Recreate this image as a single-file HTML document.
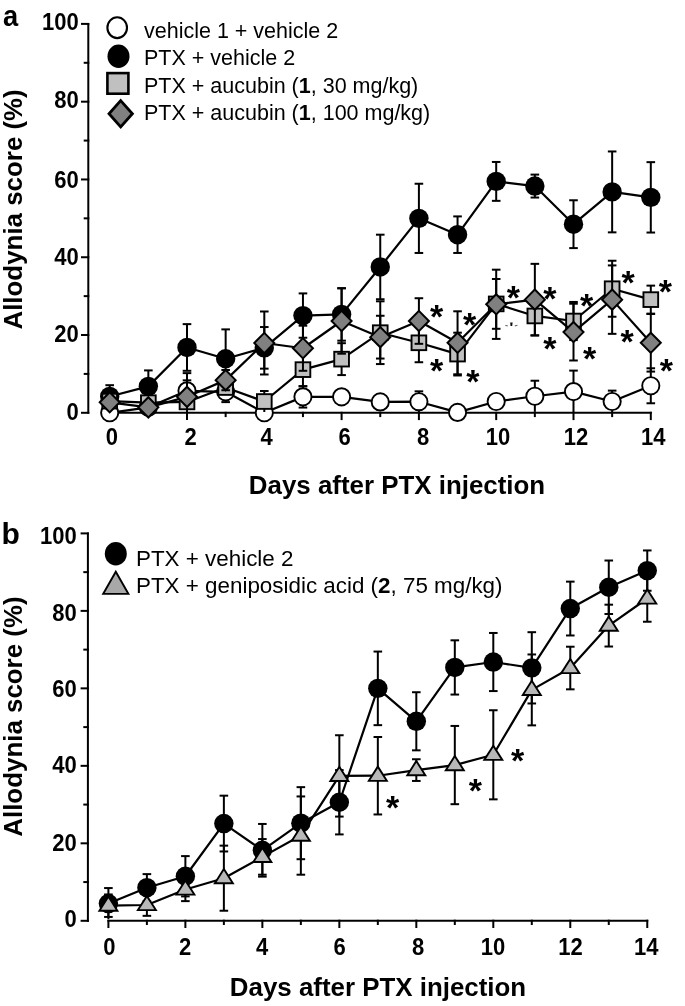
<!DOCTYPE html>
<html><head><meta charset="utf-8"><style>html,body{margin:0;padding:0;background:#fff;width:685px;height:1006px;overflow:hidden}</style></head>
<body>
<svg width="685" height="1006" viewBox="0 0 685 1006" font-family="'Liberation Sans', sans-serif" style="position:absolute;left:0;top:0;will-change:transform">
<rect width="685" height="1006" fill="#fff"/>
<text transform="translate(3.0,26.3) scale(0.91,1)" font-weight="bold" font-size="30">a</text>
<text x="1.5" y="544.2" font-weight="bold" font-size="30">b</text>
<line x1="88.3" y1="22.900000000000034" x2="88.3" y2="413.8" stroke="#000" stroke-width="2.0"/>
<line x1="81.0" y1="412.8" x2="89.3" y2="412.8" stroke="#000" stroke-width="2.0"/>
<text transform="translate(78.8,419.60) scale(0.95,1)" text-anchor="end" font-weight="bold" font-size="23.2">0</text>
<line x1="83.7" y1="373.91" x2="89.3" y2="373.91" stroke="#000" stroke-width="2.0"/>
<line x1="81.0" y1="335.02" x2="89.3" y2="335.02" stroke="#000" stroke-width="2.0"/>
<text transform="translate(78.8,342.47) scale(0.95,1)" text-anchor="end" font-weight="bold" font-size="23.2">20</text>
<line x1="83.7" y1="296.13" x2="89.3" y2="296.13" stroke="#000" stroke-width="2.0"/>
<line x1="81.0" y1="257.24" x2="89.3" y2="257.24" stroke="#000" stroke-width="2.0"/>
<text transform="translate(78.8,265.49) scale(0.95,1)" text-anchor="end" font-weight="bold" font-size="23.2">40</text>
<line x1="83.7" y1="218.35000000000002" x2="89.3" y2="218.35000000000002" stroke="#000" stroke-width="2.0"/>
<line x1="81.0" y1="179.46000000000004" x2="89.3" y2="179.46000000000004" stroke="#000" stroke-width="2.0"/>
<text transform="translate(78.8,187.66) scale(0.95,1)" text-anchor="end" font-weight="bold" font-size="23.2">60</text>
<line x1="83.7" y1="140.57000000000005" x2="89.3" y2="140.57000000000005" stroke="#000" stroke-width="2.0"/>
<line x1="81.0" y1="101.68" x2="89.3" y2="101.68" stroke="#000" stroke-width="2.0"/>
<text transform="translate(78.8,108.48) scale(0.95,1)" text-anchor="end" font-weight="bold" font-size="23.2">80</text>
<line x1="83.7" y1="62.79000000000002" x2="89.3" y2="62.79000000000002" stroke="#000" stroke-width="2.0"/>
<line x1="81.0" y1="23.900000000000034" x2="89.3" y2="23.900000000000034" stroke="#000" stroke-width="2.0"/>
<text transform="translate(78.8,30.05) scale(0.95,1)" text-anchor="end" font-weight="bold" font-size="23.2">100</text>
<line x1="108.7" y1="412.8" x2="651.8000000000001" y2="412.8" stroke="#000" stroke-width="2.0"/>
<line x1="109.7" y1="411.8" x2="109.7" y2="420.1" stroke="#000" stroke-width="2.0"/>
<text transform="translate(111.9,445.2) scale(0.95,1)" text-anchor="middle" font-weight="bold" font-size="23.2">0</text>
<line x1="148.35" y1="411.8" x2="148.35" y2="417.1" stroke="#000" stroke-width="2.0"/>
<line x1="187.0" y1="411.8" x2="187.0" y2="420.1" stroke="#000" stroke-width="2.0"/>
<text transform="translate(190.7,445.2) scale(0.95,1)" text-anchor="middle" font-weight="bold" font-size="23.2">2</text>
<line x1="225.64999999999998" y1="411.8" x2="225.64999999999998" y2="417.1" stroke="#000" stroke-width="2.0"/>
<line x1="264.3" y1="411.8" x2="264.3" y2="420.1" stroke="#000" stroke-width="2.0"/>
<text transform="translate(266.7,445.2) scale(0.95,1)" text-anchor="middle" font-weight="bold" font-size="23.2">4</text>
<line x1="302.95" y1="411.8" x2="302.95" y2="417.1" stroke="#000" stroke-width="2.0"/>
<line x1="341.59999999999997" y1="411.8" x2="341.59999999999997" y2="420.1" stroke="#000" stroke-width="2.0"/>
<text transform="translate(344.6,445.2) scale(0.95,1)" text-anchor="middle" font-weight="bold" font-size="23.2">6</text>
<line x1="380.25" y1="411.8" x2="380.25" y2="417.1" stroke="#000" stroke-width="2.0"/>
<line x1="418.9" y1="411.8" x2="418.9" y2="420.1" stroke="#000" stroke-width="2.0"/>
<text transform="translate(423.2,445.2) scale(0.95,1)" text-anchor="middle" font-weight="bold" font-size="23.2">8</text>
<line x1="457.54999999999995" y1="411.8" x2="457.54999999999995" y2="417.1" stroke="#000" stroke-width="2.0"/>
<line x1="496.2" y1="411.8" x2="496.2" y2="420.1" stroke="#000" stroke-width="2.0"/>
<text transform="translate(498.1,445.2) scale(0.95,1)" text-anchor="middle" font-weight="bold" font-size="23.2">10</text>
<line x1="534.85" y1="411.8" x2="534.85" y2="417.1" stroke="#000" stroke-width="2.0"/>
<line x1="573.5" y1="411.8" x2="573.5" y2="420.1" stroke="#000" stroke-width="2.0"/>
<text transform="translate(575.9,445.2) scale(0.95,1)" text-anchor="middle" font-weight="bold" font-size="23.2">12</text>
<line x1="612.15" y1="411.8" x2="612.15" y2="417.1" stroke="#000" stroke-width="2.0"/>
<line x1="650.8000000000001" y1="411.8" x2="650.8000000000001" y2="420.1" stroke="#000" stroke-width="2.0"/>
<text transform="translate(653.3,445.2) scale(0.95,1)" text-anchor="middle" font-weight="bold" font-size="23.2">14</text>
<text x="397.0" y="493.5" text-anchor="middle" font-weight="bold" font-size="25.9">Days after PTX injection</text>
<text transform="translate(22.3,209.4) rotate(-90)" text-anchor="middle" font-weight="bold" font-size="25.9">Allodynia score (%)</text>
<line x1="187.00" y1="380.33" x2="187.00" y2="401.33" stroke="#000" stroke-width="2.0"/>
<line x1="182.70" y1="380.33" x2="191.30" y2="380.33" stroke="#000" stroke-width="2.0"/>
<line x1="182.70" y1="401.33" x2="191.30" y2="401.33" stroke="#000" stroke-width="2.0"/>
<line x1="225.65" y1="381.49" x2="225.65" y2="402.11" stroke="#000" stroke-width="2.0"/>
<line x1="221.35" y1="381.49" x2="229.95" y2="381.49" stroke="#000" stroke-width="2.0"/>
<line x1="221.35" y1="402.11" x2="229.95" y2="402.11" stroke="#000" stroke-width="2.0"/>
<line x1="302.95" y1="386.16" x2="302.95" y2="407.55" stroke="#000" stroke-width="2.0"/>
<line x1="298.65" y1="386.16" x2="307.25" y2="386.16" stroke="#000" stroke-width="2.0"/>
<line x1="298.65" y1="407.55" x2="307.25" y2="407.55" stroke="#000" stroke-width="2.0"/>
<line x1="341.60" y1="392.97" x2="341.60" y2="400.74" stroke="#000" stroke-width="2.0"/>
<line x1="337.30" y1="392.97" x2="345.90" y2="392.97" stroke="#000" stroke-width="2.0"/>
<line x1="337.30" y1="400.74" x2="345.90" y2="400.74" stroke="#000" stroke-width="2.0"/>
<line x1="380.25" y1="398.02" x2="380.25" y2="405.80" stroke="#000" stroke-width="2.0"/>
<line x1="375.95" y1="398.02" x2="384.55" y2="398.02" stroke="#000" stroke-width="2.0"/>
<line x1="375.95" y1="405.80" x2="384.55" y2="405.80" stroke="#000" stroke-width="2.0"/>
<line x1="418.90" y1="391.33" x2="418.90" y2="412.10" stroke="#000" stroke-width="2.0"/>
<line x1="414.60" y1="391.33" x2="423.20" y2="391.33" stroke="#000" stroke-width="2.0"/>
<line x1="496.20" y1="397.63" x2="496.20" y2="405.41" stroke="#000" stroke-width="2.0"/>
<line x1="491.90" y1="397.63" x2="500.50" y2="397.63" stroke="#000" stroke-width="2.0"/>
<line x1="491.90" y1="405.41" x2="500.50" y2="405.41" stroke="#000" stroke-width="2.0"/>
<line x1="534.85" y1="380.72" x2="534.85" y2="411.83" stroke="#000" stroke-width="2.0"/>
<line x1="530.55" y1="380.72" x2="539.15" y2="380.72" stroke="#000" stroke-width="2.0"/>
<line x1="573.50" y1="370.60" x2="573.50" y2="412.61" stroke="#000" stroke-width="2.0"/>
<line x1="569.20" y1="370.60" x2="577.80" y2="370.60" stroke="#000" stroke-width="2.0"/>
<line x1="612.15" y1="390.63" x2="612.15" y2="412.41" stroke="#000" stroke-width="2.0"/>
<line x1="607.85" y1="390.63" x2="616.45" y2="390.63" stroke="#000" stroke-width="2.0"/>
<line x1="650.80" y1="368.27" x2="650.80" y2="403.27" stroke="#000" stroke-width="2.0"/>
<line x1="646.50" y1="368.27" x2="655.10" y2="368.27" stroke="#000" stroke-width="2.0"/>
<line x1="646.50" y1="403.27" x2="655.10" y2="403.27" stroke="#000" stroke-width="2.0"/>
<path d="M109.70 412.80 L148.35 407.36 L187.00 390.83 L225.65 391.80 L264.30 412.80 L302.95 396.86 L341.60 396.86 L380.25 401.91 L418.90 401.72 L457.55 412.41 L496.20 401.52 L534.85 396.27 L573.50 391.60 L612.15 401.52 L650.80 385.77" fill="none" stroke="#000" stroke-width="2.2" stroke-linejoin="round"/>
<ellipse cx="109.70" cy="412.80" rx="8.6" ry="8.6" fill="#fff" stroke="#000" stroke-width="1.9"/>
<ellipse cx="148.35" cy="407.36" rx="8.6" ry="8.6" fill="#fff" stroke="#000" stroke-width="1.9"/>
<ellipse cx="187.00" cy="390.83" rx="8.6" ry="8.6" fill="#fff" stroke="#000" stroke-width="1.9"/>
<ellipse cx="225.65" cy="391.80" rx="8.6" ry="8.6" fill="#fff" stroke="#000" stroke-width="1.9"/>
<ellipse cx="264.30" cy="412.80" rx="8.6" ry="8.6" fill="#fff" stroke="#000" stroke-width="1.9"/>
<ellipse cx="302.95" cy="396.86" rx="8.6" ry="8.6" fill="#fff" stroke="#000" stroke-width="1.9"/>
<ellipse cx="341.60" cy="396.86" rx="8.6" ry="8.6" fill="#fff" stroke="#000" stroke-width="1.9"/>
<ellipse cx="380.25" cy="401.91" rx="8.6" ry="8.6" fill="#fff" stroke="#000" stroke-width="1.9"/>
<ellipse cx="418.90" cy="401.72" rx="8.6" ry="8.6" fill="#fff" stroke="#000" stroke-width="1.9"/>
<ellipse cx="457.55" cy="412.41" rx="8.6" ry="8.6" fill="#fff" stroke="#000" stroke-width="1.9"/>
<ellipse cx="496.20" cy="401.52" rx="8.6" ry="8.6" fill="#fff" stroke="#000" stroke-width="1.9"/>
<ellipse cx="534.85" cy="396.27" rx="8.6" ry="8.6" fill="#fff" stroke="#000" stroke-width="1.9"/>
<ellipse cx="573.50" cy="391.60" rx="8.6" ry="8.6" fill="#fff" stroke="#000" stroke-width="1.9"/>
<ellipse cx="612.15" cy="401.52" rx="8.6" ry="8.6" fill="#fff" stroke="#000" stroke-width="1.9"/>
<ellipse cx="650.80" cy="385.77" rx="8.6" ry="8.6" fill="#fff" stroke="#000" stroke-width="1.9"/>
<line x1="109.70" y1="385.19" x2="109.70" y2="407.74" stroke="#000" stroke-width="2.0"/>
<line x1="105.40" y1="385.19" x2="114.00" y2="385.19" stroke="#000" stroke-width="2.0"/>
<line x1="105.40" y1="407.74" x2="114.00" y2="407.74" stroke="#000" stroke-width="2.0"/>
<line x1="148.35" y1="370.41" x2="148.35" y2="402.30" stroke="#000" stroke-width="2.0"/>
<line x1="144.05" y1="370.41" x2="152.65" y2="370.41" stroke="#000" stroke-width="2.0"/>
<line x1="144.05" y1="402.30" x2="152.65" y2="402.30" stroke="#000" stroke-width="2.0"/>
<line x1="187.00" y1="324.13" x2="187.00" y2="370.80" stroke="#000" stroke-width="2.0"/>
<line x1="182.70" y1="324.13" x2="191.30" y2="324.13" stroke="#000" stroke-width="2.0"/>
<line x1="182.70" y1="370.80" x2="191.30" y2="370.80" stroke="#000" stroke-width="2.0"/>
<line x1="225.65" y1="329.38" x2="225.65" y2="388.10" stroke="#000" stroke-width="2.0"/>
<line x1="221.35" y1="329.38" x2="229.95" y2="329.38" stroke="#000" stroke-width="2.0"/>
<line x1="221.35" y1="388.10" x2="229.95" y2="388.10" stroke="#000" stroke-width="2.0"/>
<line x1="264.30" y1="327.05" x2="264.30" y2="368.66" stroke="#000" stroke-width="2.0"/>
<line x1="260.00" y1="327.05" x2="268.60" y2="327.05" stroke="#000" stroke-width="2.0"/>
<line x1="260.00" y1="368.66" x2="268.60" y2="368.66" stroke="#000" stroke-width="2.0"/>
<line x1="302.95" y1="293.41" x2="302.95" y2="337.74" stroke="#000" stroke-width="2.0"/>
<line x1="298.65" y1="293.41" x2="307.25" y2="293.41" stroke="#000" stroke-width="2.0"/>
<line x1="298.65" y1="337.74" x2="307.25" y2="337.74" stroke="#000" stroke-width="2.0"/>
<line x1="341.60" y1="288.16" x2="341.60" y2="340.66" stroke="#000" stroke-width="2.0"/>
<line x1="337.30" y1="288.16" x2="345.90" y2="288.16" stroke="#000" stroke-width="2.0"/>
<line x1="337.30" y1="340.66" x2="345.90" y2="340.66" stroke="#000" stroke-width="2.0"/>
<line x1="380.25" y1="234.68" x2="380.25" y2="299.24" stroke="#000" stroke-width="2.0"/>
<line x1="375.95" y1="234.68" x2="384.55" y2="234.68" stroke="#000" stroke-width="2.0"/>
<line x1="375.95" y1="299.24" x2="384.55" y2="299.24" stroke="#000" stroke-width="2.0"/>
<line x1="418.90" y1="183.74" x2="418.90" y2="252.96" stroke="#000" stroke-width="2.0"/>
<line x1="414.60" y1="183.74" x2="423.20" y2="183.74" stroke="#000" stroke-width="2.0"/>
<line x1="414.60" y1="252.96" x2="423.20" y2="252.96" stroke="#000" stroke-width="2.0"/>
<line x1="457.55" y1="216.41" x2="457.55" y2="252.96" stroke="#000" stroke-width="2.0"/>
<line x1="453.25" y1="216.41" x2="461.85" y2="216.41" stroke="#000" stroke-width="2.0"/>
<line x1="453.25" y1="252.96" x2="461.85" y2="252.96" stroke="#000" stroke-width="2.0"/>
<line x1="496.20" y1="161.96" x2="496.20" y2="200.85" stroke="#000" stroke-width="2.0"/>
<line x1="491.90" y1="161.96" x2="500.50" y2="161.96" stroke="#000" stroke-width="2.0"/>
<line x1="491.90" y1="200.85" x2="500.50" y2="200.85" stroke="#000" stroke-width="2.0"/>
<line x1="534.85" y1="174.60" x2="534.85" y2="197.54" stroke="#000" stroke-width="2.0"/>
<line x1="530.55" y1="174.60" x2="539.15" y2="174.60" stroke="#000" stroke-width="2.0"/>
<line x1="530.55" y1="197.54" x2="539.15" y2="197.54" stroke="#000" stroke-width="2.0"/>
<line x1="573.50" y1="200.27" x2="573.50" y2="248.10" stroke="#000" stroke-width="2.0"/>
<line x1="569.20" y1="200.27" x2="577.80" y2="200.27" stroke="#000" stroke-width="2.0"/>
<line x1="569.20" y1="248.10" x2="577.80" y2="248.10" stroke="#000" stroke-width="2.0"/>
<line x1="612.15" y1="151.46" x2="612.15" y2="232.35" stroke="#000" stroke-width="2.0"/>
<line x1="607.85" y1="151.46" x2="616.45" y2="151.46" stroke="#000" stroke-width="2.0"/>
<line x1="607.85" y1="232.35" x2="616.45" y2="232.35" stroke="#000" stroke-width="2.0"/>
<line x1="650.80" y1="162.15" x2="650.80" y2="232.54" stroke="#000" stroke-width="2.0"/>
<line x1="646.50" y1="162.15" x2="655.10" y2="162.15" stroke="#000" stroke-width="2.0"/>
<line x1="646.50" y1="232.54" x2="655.10" y2="232.54" stroke="#000" stroke-width="2.0"/>
<path d="M109.70 396.47 L148.35 386.35 L187.00 347.46 L225.65 358.74 L264.30 347.85 L302.95 315.58 L341.60 314.41 L380.25 266.96 L418.90 218.35 L457.55 234.68 L496.20 181.40 L534.85 186.07 L573.50 224.18 L612.15 191.90 L650.80 197.35" fill="none" stroke="#000" stroke-width="2.2" stroke-linejoin="round"/>
<ellipse cx="109.70" cy="396.47" rx="9.7" ry="9.7" fill="#000"/>
<ellipse cx="148.35" cy="386.35" rx="9.7" ry="9.7" fill="#000"/>
<ellipse cx="187.00" cy="347.46" rx="9.7" ry="9.7" fill="#000"/>
<ellipse cx="225.65" cy="358.74" rx="9.7" ry="9.7" fill="#000"/>
<ellipse cx="264.30" cy="347.85" rx="9.7" ry="9.7" fill="#000"/>
<ellipse cx="302.95" cy="315.58" rx="9.7" ry="9.7" fill="#000"/>
<ellipse cx="341.60" cy="314.41" rx="9.7" ry="9.7" fill="#000"/>
<ellipse cx="380.25" cy="266.96" rx="9.7" ry="9.7" fill="#000"/>
<ellipse cx="418.90" cy="218.35" rx="9.7" ry="9.7" fill="#000"/>
<ellipse cx="457.55" cy="234.68" rx="9.7" ry="9.7" fill="#000"/>
<ellipse cx="496.20" cy="181.40" rx="9.7" ry="9.7" fill="#000"/>
<ellipse cx="534.85" cy="186.07" rx="9.7" ry="9.7" fill="#000"/>
<ellipse cx="573.50" cy="224.18" rx="9.7" ry="9.7" fill="#000"/>
<ellipse cx="612.15" cy="191.90" rx="9.7" ry="9.7" fill="#000"/>
<ellipse cx="650.80" cy="197.35" rx="9.7" ry="9.7" fill="#000"/>
<line x1="109.70" y1="397.24" x2="109.70" y2="405.02" stroke="#000" stroke-width="2.0"/>
<line x1="105.40" y1="397.24" x2="114.00" y2="397.24" stroke="#000" stroke-width="2.0"/>
<line x1="105.40" y1="405.02" x2="114.00" y2="405.02" stroke="#000" stroke-width="2.0"/>
<line x1="148.35" y1="398.80" x2="148.35" y2="406.58" stroke="#000" stroke-width="2.0"/>
<line x1="144.05" y1="398.80" x2="152.65" y2="398.80" stroke="#000" stroke-width="2.0"/>
<line x1="144.05" y1="406.58" x2="152.65" y2="406.58" stroke="#000" stroke-width="2.0"/>
<line x1="187.00" y1="398.02" x2="187.00" y2="405.80" stroke="#000" stroke-width="2.0"/>
<line x1="182.70" y1="398.02" x2="191.30" y2="398.02" stroke="#000" stroke-width="2.0"/>
<line x1="182.70" y1="405.80" x2="191.30" y2="405.80" stroke="#000" stroke-width="2.0"/>
<line x1="225.65" y1="381.69" x2="225.65" y2="393.36" stroke="#000" stroke-width="2.0"/>
<line x1="221.35" y1="381.69" x2="229.95" y2="381.69" stroke="#000" stroke-width="2.0"/>
<line x1="221.35" y1="393.36" x2="229.95" y2="393.36" stroke="#000" stroke-width="2.0"/>
<line x1="264.30" y1="391.02" x2="264.30" y2="412.02" stroke="#000" stroke-width="2.0"/>
<line x1="260.00" y1="391.02" x2="268.60" y2="391.02" stroke="#000" stroke-width="2.0"/>
<line x1="302.95" y1="352.91" x2="302.95" y2="386.35" stroke="#000" stroke-width="2.0"/>
<line x1="298.65" y1="352.91" x2="307.25" y2="352.91" stroke="#000" stroke-width="2.0"/>
<line x1="298.65" y1="386.35" x2="307.25" y2="386.35" stroke="#000" stroke-width="2.0"/>
<line x1="341.60" y1="343.19" x2="341.60" y2="375.08" stroke="#000" stroke-width="2.0"/>
<line x1="337.30" y1="343.19" x2="345.90" y2="343.19" stroke="#000" stroke-width="2.0"/>
<line x1="337.30" y1="375.08" x2="345.90" y2="375.08" stroke="#000" stroke-width="2.0"/>
<line x1="380.25" y1="301.30" x2="380.25" y2="364.07" stroke="#000" stroke-width="2.0"/>
<line x1="375.95" y1="301.30" x2="384.55" y2="301.30" stroke="#000" stroke-width="2.0"/>
<line x1="375.95" y1="364.07" x2="384.55" y2="364.07" stroke="#000" stroke-width="2.0"/>
<line x1="418.90" y1="323.35" x2="418.90" y2="362.24" stroke="#000" stroke-width="2.0"/>
<line x1="414.60" y1="323.35" x2="423.20" y2="323.35" stroke="#000" stroke-width="2.0"/>
<line x1="414.60" y1="362.24" x2="423.20" y2="362.24" stroke="#000" stroke-width="2.0"/>
<line x1="457.55" y1="332.69" x2="457.55" y2="375.47" stroke="#000" stroke-width="2.0"/>
<line x1="453.25" y1="332.69" x2="461.85" y2="332.69" stroke="#000" stroke-width="2.0"/>
<line x1="453.25" y1="375.47" x2="461.85" y2="375.47" stroke="#000" stroke-width="2.0"/>
<line x1="496.20" y1="279.02" x2="496.20" y2="328.80" stroke="#000" stroke-width="2.0"/>
<line x1="491.90" y1="279.02" x2="500.50" y2="279.02" stroke="#000" stroke-width="2.0"/>
<line x1="491.90" y1="328.80" x2="500.50" y2="328.80" stroke="#000" stroke-width="2.0"/>
<line x1="534.85" y1="296.52" x2="534.85" y2="335.41" stroke="#000" stroke-width="2.0"/>
<line x1="530.55" y1="296.52" x2="539.15" y2="296.52" stroke="#000" stroke-width="2.0"/>
<line x1="530.55" y1="335.41" x2="539.15" y2="335.41" stroke="#000" stroke-width="2.0"/>
<line x1="573.50" y1="301.96" x2="573.50" y2="340.08" stroke="#000" stroke-width="2.0"/>
<line x1="569.20" y1="301.96" x2="577.80" y2="301.96" stroke="#000" stroke-width="2.0"/>
<line x1="569.20" y1="340.08" x2="577.80" y2="340.08" stroke="#000" stroke-width="2.0"/>
<line x1="612.15" y1="260.74" x2="612.15" y2="316.74" stroke="#000" stroke-width="2.0"/>
<line x1="607.85" y1="260.74" x2="616.45" y2="260.74" stroke="#000" stroke-width="2.0"/>
<line x1="607.85" y1="316.74" x2="616.45" y2="316.74" stroke="#000" stroke-width="2.0"/>
<line x1="650.80" y1="285.63" x2="650.80" y2="313.63" stroke="#000" stroke-width="2.0"/>
<line x1="646.50" y1="285.63" x2="655.10" y2="285.63" stroke="#000" stroke-width="2.0"/>
<line x1="646.50" y1="313.63" x2="655.10" y2="313.63" stroke="#000" stroke-width="2.0"/>
<path d="M109.70 401.13 L148.35 402.69 L187.00 401.91 L225.65 387.52 L264.30 401.52 L302.95 369.63 L341.60 359.13 L380.25 332.69 L418.90 342.80 L457.55 354.08 L496.20 303.91 L534.85 315.96 L573.50 321.02 L612.15 288.74 L650.80 299.63" fill="none" stroke="#000" stroke-width="2.2" stroke-linejoin="round"/>
<rect x="102.35" y="393.78" width="14.70" height="14.70" fill="#c0c0c0" stroke="#000" stroke-width="1.9"/>
<rect x="141.00" y="395.34" width="14.70" height="14.70" fill="#c0c0c0" stroke="#000" stroke-width="1.9"/>
<rect x="179.65" y="394.56" width="14.70" height="14.70" fill="#c0c0c0" stroke="#000" stroke-width="1.9"/>
<rect x="218.30" y="380.17" width="14.70" height="14.70" fill="#c0c0c0" stroke="#000" stroke-width="1.9"/>
<rect x="256.95" y="394.17" width="14.70" height="14.70" fill="#c0c0c0" stroke="#000" stroke-width="1.9"/>
<rect x="295.60" y="362.28" width="14.70" height="14.70" fill="#c0c0c0" stroke="#000" stroke-width="1.9"/>
<rect x="334.25" y="351.78" width="14.70" height="14.70" fill="#c0c0c0" stroke="#000" stroke-width="1.9"/>
<rect x="372.90" y="325.34" width="14.70" height="14.70" fill="#c0c0c0" stroke="#000" stroke-width="1.9"/>
<rect x="411.55" y="335.45" width="14.70" height="14.70" fill="#c0c0c0" stroke="#000" stroke-width="1.9"/>
<rect x="450.20" y="346.73" width="14.70" height="14.70" fill="#c0c0c0" stroke="#000" stroke-width="1.9"/>
<rect x="488.85" y="296.56" width="14.70" height="14.70" fill="#c0c0c0" stroke="#000" stroke-width="1.9"/>
<rect x="527.50" y="308.61" width="14.70" height="14.70" fill="#c0c0c0" stroke="#000" stroke-width="1.9"/>
<rect x="566.15" y="313.67" width="14.70" height="14.70" fill="#c0c0c0" stroke="#000" stroke-width="1.9"/>
<rect x="604.80" y="281.39" width="14.70" height="14.70" fill="#c0c0c0" stroke="#000" stroke-width="1.9"/>
<rect x="643.45" y="292.28" width="14.70" height="14.70" fill="#c0c0c0" stroke="#000" stroke-width="1.9"/>
<line x1="109.70" y1="398.41" x2="109.70" y2="406.19" stroke="#000" stroke-width="2.0"/>
<line x1="105.40" y1="398.41" x2="114.00" y2="398.41" stroke="#000" stroke-width="2.0"/>
<line x1="105.40" y1="406.19" x2="114.00" y2="406.19" stroke="#000" stroke-width="2.0"/>
<line x1="148.35" y1="403.47" x2="148.35" y2="411.24" stroke="#000" stroke-width="2.0"/>
<line x1="144.05" y1="403.47" x2="152.65" y2="403.47" stroke="#000" stroke-width="2.0"/>
<line x1="187.00" y1="373.13" x2="187.00" y2="412.80" stroke="#000" stroke-width="2.0"/>
<line x1="182.70" y1="373.13" x2="191.30" y2="373.13" stroke="#000" stroke-width="2.0"/>
<line x1="225.65" y1="370.02" x2="225.65" y2="390.24" stroke="#000" stroke-width="2.0"/>
<line x1="221.35" y1="370.02" x2="229.95" y2="370.02" stroke="#000" stroke-width="2.0"/>
<line x1="221.35" y1="390.24" x2="229.95" y2="390.24" stroke="#000" stroke-width="2.0"/>
<line x1="264.30" y1="311.49" x2="264.30" y2="374.49" stroke="#000" stroke-width="2.0"/>
<line x1="260.00" y1="311.49" x2="268.60" y2="311.49" stroke="#000" stroke-width="2.0"/>
<line x1="260.00" y1="374.49" x2="268.60" y2="374.49" stroke="#000" stroke-width="2.0"/>
<line x1="302.95" y1="325.69" x2="302.95" y2="370.80" stroke="#000" stroke-width="2.0"/>
<line x1="298.65" y1="325.69" x2="307.25" y2="325.69" stroke="#000" stroke-width="2.0"/>
<line x1="298.65" y1="370.80" x2="307.25" y2="370.80" stroke="#000" stroke-width="2.0"/>
<line x1="341.60" y1="288.35" x2="341.60" y2="353.69" stroke="#000" stroke-width="2.0"/>
<line x1="337.30" y1="288.35" x2="345.90" y2="288.35" stroke="#000" stroke-width="2.0"/>
<line x1="337.30" y1="353.69" x2="345.90" y2="353.69" stroke="#000" stroke-width="2.0"/>
<line x1="380.25" y1="315.77" x2="380.25" y2="358.55" stroke="#000" stroke-width="2.0"/>
<line x1="375.95" y1="315.77" x2="384.55" y2="315.77" stroke="#000" stroke-width="2.0"/>
<line x1="375.95" y1="358.55" x2="384.55" y2="358.55" stroke="#000" stroke-width="2.0"/>
<line x1="418.90" y1="298.23" x2="418.90" y2="343.81" stroke="#000" stroke-width="2.0"/>
<line x1="414.60" y1="298.23" x2="423.20" y2="298.23" stroke="#000" stroke-width="2.0"/>
<line x1="414.60" y1="343.81" x2="423.20" y2="343.81" stroke="#000" stroke-width="2.0"/>
<line x1="457.55" y1="311.30" x2="457.55" y2="374.30" stroke="#000" stroke-width="2.0"/>
<line x1="453.25" y1="311.30" x2="461.85" y2="311.30" stroke="#000" stroke-width="2.0"/>
<line x1="453.25" y1="374.30" x2="461.85" y2="374.30" stroke="#000" stroke-width="2.0"/>
<line x1="496.20" y1="269.68" x2="496.20" y2="338.91" stroke="#000" stroke-width="2.0"/>
<line x1="491.90" y1="269.68" x2="500.50" y2="269.68" stroke="#000" stroke-width="2.0"/>
<line x1="491.90" y1="338.91" x2="500.50" y2="338.91" stroke="#000" stroke-width="2.0"/>
<line x1="534.85" y1="263.85" x2="534.85" y2="335.41" stroke="#000" stroke-width="2.0"/>
<line x1="530.55" y1="263.85" x2="539.15" y2="263.85" stroke="#000" stroke-width="2.0"/>
<line x1="530.55" y1="335.41" x2="539.15" y2="335.41" stroke="#000" stroke-width="2.0"/>
<line x1="573.50" y1="303.71" x2="573.50" y2="360.49" stroke="#000" stroke-width="2.0"/>
<line x1="569.20" y1="303.71" x2="577.80" y2="303.71" stroke="#000" stroke-width="2.0"/>
<line x1="569.20" y1="360.49" x2="577.80" y2="360.49" stroke="#000" stroke-width="2.0"/>
<line x1="612.15" y1="265.41" x2="612.15" y2="333.85" stroke="#000" stroke-width="2.0"/>
<line x1="607.85" y1="265.41" x2="616.45" y2="265.41" stroke="#000" stroke-width="2.0"/>
<line x1="607.85" y1="333.85" x2="616.45" y2="333.85" stroke="#000" stroke-width="2.0"/>
<line x1="650.80" y1="314.02" x2="650.80" y2="371.58" stroke="#000" stroke-width="2.0"/>
<line x1="646.50" y1="314.02" x2="655.10" y2="314.02" stroke="#000" stroke-width="2.0"/>
<line x1="646.50" y1="371.58" x2="655.10" y2="371.58" stroke="#000" stroke-width="2.0"/>
<path d="M109.70 402.30 L148.35 407.36 L187.00 396.86 L225.65 380.13 L264.30 342.99 L302.95 348.24 L341.60 321.02 L380.25 337.16 L418.90 321.02 L457.55 342.80 L496.20 304.30 L534.85 299.63 L573.50 332.10 L612.15 299.63 L650.80 342.80" fill="none" stroke="#000" stroke-width="2.2" stroke-linejoin="round"/>
<path d="M109.70 392.20L119.70 402.30L109.70 412.40L99.70 402.30Z" fill="#808080" stroke="#000" stroke-width="2.0" stroke-linejoin="miter" stroke-miterlimit="10"/>
<path d="M148.35 397.26L158.35 407.36L148.35 417.46L138.35 407.36Z" fill="#808080" stroke="#000" stroke-width="2.0" stroke-linejoin="miter" stroke-miterlimit="10"/>
<path d="M187.00 386.76L197.00 396.86L187.00 406.96L177.00 396.86Z" fill="#808080" stroke="#000" stroke-width="2.0" stroke-linejoin="miter" stroke-miterlimit="10"/>
<path d="M225.65 370.03L235.65 380.13L225.65 390.23L215.65 380.13Z" fill="#808080" stroke="#000" stroke-width="2.0" stroke-linejoin="miter" stroke-miterlimit="10"/>
<path d="M264.30 332.89L274.30 342.99L264.30 353.09L254.30 342.99Z" fill="#808080" stroke="#000" stroke-width="2.0" stroke-linejoin="miter" stroke-miterlimit="10"/>
<path d="M302.95 338.14L312.95 348.24L302.95 358.34L292.95 348.24Z" fill="#808080" stroke="#000" stroke-width="2.0" stroke-linejoin="miter" stroke-miterlimit="10"/>
<path d="M341.60 310.92L351.60 321.02L341.60 331.12L331.60 321.02Z" fill="#808080" stroke="#000" stroke-width="2.0" stroke-linejoin="miter" stroke-miterlimit="10"/>
<path d="M380.25 327.06L390.25 337.16L380.25 347.26L370.25 337.16Z" fill="#808080" stroke="#000" stroke-width="2.0" stroke-linejoin="miter" stroke-miterlimit="10"/>
<path d="M418.90 310.92L428.90 321.02L418.90 331.12L408.90 321.02Z" fill="#808080" stroke="#000" stroke-width="2.0" stroke-linejoin="miter" stroke-miterlimit="10"/>
<path d="M457.55 332.70L467.55 342.80L457.55 352.90L447.55 342.80Z" fill="#808080" stroke="#000" stroke-width="2.0" stroke-linejoin="miter" stroke-miterlimit="10"/>
<path d="M496.20 294.20L506.20 304.30L496.20 314.40L486.20 304.30Z" fill="#808080" stroke="#000" stroke-width="2.0" stroke-linejoin="miter" stroke-miterlimit="10"/>
<path d="M534.85 289.53L544.85 299.63L534.85 309.73L524.85 299.63Z" fill="#808080" stroke="#000" stroke-width="2.0" stroke-linejoin="miter" stroke-miterlimit="10"/>
<path d="M573.50 322.00L583.50 332.10L573.50 342.20L563.50 332.10Z" fill="#808080" stroke="#000" stroke-width="2.0" stroke-linejoin="miter" stroke-miterlimit="10"/>
<path d="M612.15 289.53L622.15 299.63L612.15 309.73L602.15 299.63Z" fill="#808080" stroke="#000" stroke-width="2.0" stroke-linejoin="miter" stroke-miterlimit="10"/>
<path d="M650.80 332.70L660.80 342.80L650.80 352.90L640.80 342.80Z" fill="#808080" stroke="#000" stroke-width="2.0" stroke-linejoin="miter" stroke-miterlimit="10"/>
<text x="436.6" y="327.6" text-anchor="middle" font-weight="bold" font-size="34">*</text>
<text x="436.6" y="381.9" text-anchor="middle" font-weight="bold" font-size="34">*</text>
<text x="469.5" y="335.8" text-anchor="middle" font-weight="bold" font-size="34">*</text>
<text x="472.9" y="393.3" text-anchor="middle" font-weight="bold" font-size="34">*</text>
<text x="513.3" y="309.3" text-anchor="middle" font-weight="bold" font-size="34">*</text>
<text x="549.9" y="309.9" text-anchor="middle" font-weight="bold" font-size="34">*</text>
<text x="549.9" y="360.2" text-anchor="middle" font-weight="bold" font-size="34">*</text>
<text x="586.5" y="316.9" text-anchor="middle" font-weight="bold" font-size="34">*</text>
<text x="589.7" y="370.1" text-anchor="middle" font-weight="bold" font-size="34">*</text>
<text x="628.1" y="293.9" text-anchor="middle" font-weight="bold" font-size="34">*</text>
<text x="627.2" y="352.6" text-anchor="middle" font-weight="bold" font-size="34">*</text>
<text x="665.3" y="303.3" text-anchor="middle" font-weight="bold" font-size="34">*</text>
<text x="666.4" y="382.1" text-anchor="middle" font-weight="bold" font-size="34">*</text>
<path d="M510.2 322.4h2.4l-0.4 3.6h-1.7z" fill="#111"/>
<path d="M505.4 325.0l2.6 0.6-0.6 0.8-2.2-0.6z" fill="#555"/>
<path d="M514.6 325.6l2.8-0.8 0.2 0.8-2.6 0.8z" fill="#555"/>
<ellipse cx="117.20" cy="27.70" rx="9.8" ry="10.4" fill="#fff" stroke="#000" stroke-width="2.1"/>
<text x="144.0" y="37.8" font-size="21.5">vehicle 1 + vehicle 2</text>
<ellipse cx="118.50" cy="56.20" rx="11" ry="11.7" fill="#000"/>
<text x="144.0" y="65.10000000000001" font-size="21.5">PTX + vehicle 2</text>
<rect x="107.40" y="73.10" width="21.00" height="20.60" fill="#c0c0c0" stroke="#000" stroke-width="2.6"/>
<text x="144.0" y="92.80000000000001" font-size="21.5">PTX + aucubin (<tspan font-weight="bold">1</tspan>, 30 mg/kg)</text>
<path d="M120.70 100.60L132.40 113.80L120.70 127.00L109.00 113.80Z" fill="#808080" stroke="#000" stroke-width="2.8" stroke-linejoin="miter" stroke-miterlimit="10"/>
<text x="144.0" y="120.10000000000001" font-size="21.5">PTX + aucubin (<tspan font-weight="bold">1</tspan>, 100 mg/kg)</text>
<line x1="87.9" y1="532.3999999999999" x2="87.9" y2="921.8" stroke="#000" stroke-width="2.0"/>
<line x1="80.60000000000001" y1="920.8" x2="88.9" y2="920.8" stroke="#000" stroke-width="2.0"/>
<text transform="translate(76.8,926.65) scale(0.95,1)" text-anchor="end" font-weight="bold" font-size="23.2">0</text>
<line x1="83.30000000000001" y1="882.06" x2="88.9" y2="882.06" stroke="#000" stroke-width="2.0"/>
<line x1="80.60000000000001" y1="843.3199999999999" x2="88.9" y2="843.3199999999999" stroke="#000" stroke-width="2.0"/>
<text transform="translate(76.8,850.57) scale(0.95,1)" text-anchor="end" font-weight="bold" font-size="23.2">20</text>
<line x1="83.30000000000001" y1="804.5799999999999" x2="88.9" y2="804.5799999999999" stroke="#000" stroke-width="2.0"/>
<line x1="80.60000000000001" y1="765.8399999999999" x2="88.9" y2="765.8399999999999" stroke="#000" stroke-width="2.0"/>
<text transform="translate(76.8,773.49) scale(0.95,1)" text-anchor="end" font-weight="bold" font-size="23.2">40</text>
<line x1="83.30000000000001" y1="727.0999999999999" x2="88.9" y2="727.0999999999999" stroke="#000" stroke-width="2.0"/>
<line x1="80.60000000000001" y1="688.3599999999999" x2="88.9" y2="688.3599999999999" stroke="#000" stroke-width="2.0"/>
<text transform="translate(76.8,696.96) scale(0.95,1)" text-anchor="end" font-weight="bold" font-size="23.2">60</text>
<line x1="83.30000000000001" y1="649.6199999999999" x2="88.9" y2="649.6199999999999" stroke="#000" stroke-width="2.0"/>
<line x1="80.60000000000001" y1="610.8799999999999" x2="88.9" y2="610.8799999999999" stroke="#000" stroke-width="2.0"/>
<text transform="translate(76.8,620.58) scale(0.95,1)" text-anchor="end" font-weight="bold" font-size="23.2">80</text>
<line x1="83.30000000000001" y1="572.1399999999999" x2="88.9" y2="572.1399999999999" stroke="#000" stroke-width="2.0"/>
<line x1="80.60000000000001" y1="533.3999999999999" x2="88.9" y2="533.3999999999999" stroke="#000" stroke-width="2.0"/>
<text transform="translate(76.8,544.20) scale(0.95,1)" text-anchor="end" font-weight="bold" font-size="23.2">100</text>
<line x1="107.4" y1="920.7" x2="648.26" y2="920.7" stroke="#000" stroke-width="2.0"/>
<line x1="108.4" y1="919.7" x2="108.4" y2="928.0" stroke="#000" stroke-width="2.0"/>
<text transform="translate(109.3,954.9) scale(0.95,1)" text-anchor="middle" font-weight="bold" font-size="23.2">0</text>
<line x1="146.89000000000001" y1="919.7" x2="146.89000000000001" y2="925.0" stroke="#000" stroke-width="2.0"/>
<line x1="185.38" y1="919.7" x2="185.38" y2="928.0" stroke="#000" stroke-width="2.0"/>
<text transform="translate(185.0,954.9) scale(0.95,1)" text-anchor="middle" font-weight="bold" font-size="23.2">2</text>
<line x1="223.87" y1="919.7" x2="223.87" y2="925.0" stroke="#000" stroke-width="2.0"/>
<line x1="262.36" y1="919.7" x2="262.36" y2="928.0" stroke="#000" stroke-width="2.0"/>
<text transform="translate(262.0,954.9) scale(0.95,1)" text-anchor="middle" font-weight="bold" font-size="23.2">4</text>
<line x1="300.85" y1="919.7" x2="300.85" y2="925.0" stroke="#000" stroke-width="2.0"/>
<line x1="339.34000000000003" y1="919.7" x2="339.34000000000003" y2="928.0" stroke="#000" stroke-width="2.0"/>
<text transform="translate(339.5,954.9) scale(0.95,1)" text-anchor="middle" font-weight="bold" font-size="23.2">6</text>
<line x1="377.83000000000004" y1="919.7" x2="377.83000000000004" y2="925.0" stroke="#000" stroke-width="2.0"/>
<line x1="416.32000000000005" y1="919.7" x2="416.32000000000005" y2="928.0" stroke="#000" stroke-width="2.0"/>
<text transform="translate(418.0,954.9) scale(0.95,1)" text-anchor="middle" font-weight="bold" font-size="23.2">8</text>
<line x1="454.81000000000006" y1="919.7" x2="454.81000000000006" y2="925.0" stroke="#000" stroke-width="2.0"/>
<line x1="493.30000000000007" y1="919.7" x2="493.30000000000007" y2="928.0" stroke="#000" stroke-width="2.0"/>
<text transform="translate(493.0,954.9) scale(0.95,1)" text-anchor="middle" font-weight="bold" font-size="23.2">10</text>
<line x1="531.7900000000001" y1="919.7" x2="531.7900000000001" y2="925.0" stroke="#000" stroke-width="2.0"/>
<line x1="570.28" y1="919.7" x2="570.28" y2="928.0" stroke="#000" stroke-width="2.0"/>
<text transform="translate(570.5,954.9) scale(0.95,1)" text-anchor="middle" font-weight="bold" font-size="23.2">12</text>
<line x1="608.77" y1="919.7" x2="608.77" y2="925.0" stroke="#000" stroke-width="2.0"/>
<line x1="647.26" y1="919.7" x2="647.26" y2="928.0" stroke="#000" stroke-width="2.0"/>
<text transform="translate(646.2,954.9) scale(0.95,1)" text-anchor="middle" font-weight="bold" font-size="23.2">14</text>
<text x="378.0" y="995.8" text-anchor="middle" font-weight="bold" font-size="25.9">Days after PTX injection</text>
<text transform="translate(22.3,716.6) rotate(-90)" text-anchor="middle" font-weight="bold" font-size="25.9">Allodynia score (%)</text>
<line x1="108.40" y1="888.06" x2="108.40" y2="919.06" stroke="#000" stroke-width="2.0"/>
<line x1="104.10" y1="888.06" x2="112.70" y2="888.06" stroke="#000" stroke-width="2.0"/>
<line x1="146.89" y1="874.12" x2="146.89" y2="901.24" stroke="#000" stroke-width="2.0"/>
<line x1="142.59" y1="874.12" x2="151.19" y2="874.12" stroke="#000" stroke-width="2.0"/>
<line x1="142.59" y1="901.24" x2="151.19" y2="901.24" stroke="#000" stroke-width="2.0"/>
<line x1="185.38" y1="856.10" x2="185.38" y2="896.39" stroke="#000" stroke-width="2.0"/>
<line x1="181.08" y1="856.10" x2="189.68" y2="856.10" stroke="#000" stroke-width="2.0"/>
<line x1="181.08" y1="896.39" x2="189.68" y2="896.39" stroke="#000" stroke-width="2.0"/>
<line x1="223.87" y1="795.67" x2="223.87" y2="851.46" stroke="#000" stroke-width="2.0"/>
<line x1="219.57" y1="795.67" x2="228.17" y2="795.67" stroke="#000" stroke-width="2.0"/>
<line x1="219.57" y1="851.46" x2="228.17" y2="851.46" stroke="#000" stroke-width="2.0"/>
<line x1="262.36" y1="823.95" x2="262.36" y2="876.64" stroke="#000" stroke-width="2.0"/>
<line x1="258.06" y1="823.95" x2="266.66" y2="823.95" stroke="#000" stroke-width="2.0"/>
<line x1="258.06" y1="876.64" x2="266.66" y2="876.64" stroke="#000" stroke-width="2.0"/>
<line x1="300.85" y1="787.15" x2="300.85" y2="859.20" stroke="#000" stroke-width="2.0"/>
<line x1="296.55" y1="787.15" x2="305.15" y2="787.15" stroke="#000" stroke-width="2.0"/>
<line x1="296.55" y1="859.20" x2="305.15" y2="859.20" stroke="#000" stroke-width="2.0"/>
<line x1="339.34" y1="770.10" x2="339.34" y2="834.41" stroke="#000" stroke-width="2.0"/>
<line x1="335.04" y1="770.10" x2="343.64" y2="770.10" stroke="#000" stroke-width="2.0"/>
<line x1="335.04" y1="834.41" x2="343.64" y2="834.41" stroke="#000" stroke-width="2.0"/>
<line x1="377.83" y1="651.56" x2="377.83" y2="725.16" stroke="#000" stroke-width="2.0"/>
<line x1="373.53" y1="651.56" x2="382.13" y2="651.56" stroke="#000" stroke-width="2.0"/>
<line x1="373.53" y1="725.16" x2="382.13" y2="725.16" stroke="#000" stroke-width="2.0"/>
<line x1="416.32" y1="692.23" x2="416.32" y2="750.34" stroke="#000" stroke-width="2.0"/>
<line x1="412.02" y1="692.23" x2="420.62" y2="692.23" stroke="#000" stroke-width="2.0"/>
<line x1="412.02" y1="750.34" x2="420.62" y2="750.34" stroke="#000" stroke-width="2.0"/>
<line x1="454.81" y1="640.32" x2="454.81" y2="694.56" stroke="#000" stroke-width="2.0"/>
<line x1="450.51" y1="640.32" x2="459.11" y2="640.32" stroke="#000" stroke-width="2.0"/>
<line x1="450.51" y1="694.56" x2="459.11" y2="694.56" stroke="#000" stroke-width="2.0"/>
<line x1="493.30" y1="632.96" x2="493.30" y2="691.07" stroke="#000" stroke-width="2.0"/>
<line x1="489.00" y1="632.96" x2="497.60" y2="632.96" stroke="#000" stroke-width="2.0"/>
<line x1="489.00" y1="691.07" x2="497.60" y2="691.07" stroke="#000" stroke-width="2.0"/>
<line x1="531.79" y1="632.19" x2="531.79" y2="703.47" stroke="#000" stroke-width="2.0"/>
<line x1="527.49" y1="632.19" x2="536.09" y2="632.19" stroke="#000" stroke-width="2.0"/>
<line x1="527.49" y1="703.47" x2="536.09" y2="703.47" stroke="#000" stroke-width="2.0"/>
<line x1="570.28" y1="581.63" x2="570.28" y2="635.48" stroke="#000" stroke-width="2.0"/>
<line x1="565.98" y1="581.63" x2="574.58" y2="581.63" stroke="#000" stroke-width="2.0"/>
<line x1="565.98" y1="635.48" x2="574.58" y2="635.48" stroke="#000" stroke-width="2.0"/>
<line x1="608.77" y1="560.52" x2="608.77" y2="613.98" stroke="#000" stroke-width="2.0"/>
<line x1="604.47" y1="560.52" x2="613.07" y2="560.52" stroke="#000" stroke-width="2.0"/>
<line x1="604.47" y1="613.98" x2="613.07" y2="613.98" stroke="#000" stroke-width="2.0"/>
<line x1="647.26" y1="550.45" x2="647.26" y2="590.74" stroke="#000" stroke-width="2.0"/>
<line x1="642.96" y1="550.45" x2="651.56" y2="550.45" stroke="#000" stroke-width="2.0"/>
<line x1="642.96" y1="590.74" x2="651.56" y2="590.74" stroke="#000" stroke-width="2.0"/>
<path d="M108.40 903.56 L146.89 887.68 L185.38 876.25 L223.87 823.56 L262.36 850.29 L300.85 823.18 L339.34 802.26 L377.83 688.36 L416.32 721.29 L454.81 667.44 L493.30 662.02 L531.79 667.83 L570.28 608.56 L608.77 587.25 L647.26 570.59" fill="none" stroke="#000" stroke-width="2.2" stroke-linejoin="round"/>
<ellipse cx="108.40" cy="903.56" rx="9.7" ry="9.7" fill="#000"/>
<ellipse cx="146.89" cy="887.68" rx="9.7" ry="9.7" fill="#000"/>
<ellipse cx="185.38" cy="876.25" rx="9.7" ry="9.7" fill="#000"/>
<ellipse cx="223.87" cy="823.56" rx="9.7" ry="9.7" fill="#000"/>
<ellipse cx="262.36" cy="850.29" rx="9.7" ry="9.7" fill="#000"/>
<ellipse cx="300.85" cy="823.18" rx="9.7" ry="9.7" fill="#000"/>
<ellipse cx="339.34" cy="802.26" rx="9.7" ry="9.7" fill="#000"/>
<ellipse cx="377.83" cy="688.36" rx="9.7" ry="9.7" fill="#000"/>
<ellipse cx="416.32" cy="721.29" rx="9.7" ry="9.7" fill="#000"/>
<ellipse cx="454.81" cy="667.44" rx="9.7" ry="9.7" fill="#000"/>
<ellipse cx="493.30" cy="662.02" rx="9.7" ry="9.7" fill="#000"/>
<ellipse cx="531.79" cy="667.83" rx="9.7" ry="9.7" fill="#000"/>
<ellipse cx="570.28" cy="608.56" rx="9.7" ry="9.7" fill="#000"/>
<ellipse cx="608.77" cy="587.25" rx="9.7" ry="9.7" fill="#000"/>
<ellipse cx="647.26" cy="570.59" rx="9.7" ry="9.7" fill="#000"/>
<line x1="108.40" y1="894.46" x2="108.40" y2="916.93" stroke="#000" stroke-width="2.0"/>
<line x1="104.10" y1="894.46" x2="112.70" y2="894.46" stroke="#000" stroke-width="2.0"/>
<line x1="104.10" y1="916.93" x2="112.70" y2="916.93" stroke="#000" stroke-width="2.0"/>
<line x1="146.89" y1="894.15" x2="146.89" y2="915.84" stroke="#000" stroke-width="2.0"/>
<line x1="142.59" y1="894.15" x2="151.19" y2="894.15" stroke="#000" stroke-width="2.0"/>
<line x1="142.59" y1="915.84" x2="151.19" y2="915.84" stroke="#000" stroke-width="2.0"/>
<line x1="185.38" y1="877.88" x2="185.38" y2="901.12" stroke="#000" stroke-width="2.0"/>
<line x1="181.08" y1="877.88" x2="189.68" y2="877.88" stroke="#000" stroke-width="2.0"/>
<line x1="181.08" y1="901.12" x2="189.68" y2="901.12" stroke="#000" stroke-width="2.0"/>
<line x1="223.87" y1="845.64" x2="223.87" y2="910.73" stroke="#000" stroke-width="2.0"/>
<line x1="219.57" y1="845.64" x2="228.17" y2="845.64" stroke="#000" stroke-width="2.0"/>
<line x1="219.57" y1="910.73" x2="228.17" y2="910.73" stroke="#000" stroke-width="2.0"/>
<line x1="262.36" y1="839.06" x2="262.36" y2="874.70" stroke="#000" stroke-width="2.0"/>
<line x1="258.06" y1="839.06" x2="266.66" y2="839.06" stroke="#000" stroke-width="2.0"/>
<line x1="258.06" y1="874.70" x2="266.66" y2="874.70" stroke="#000" stroke-width="2.0"/>
<line x1="300.85" y1="796.44" x2="300.85" y2="874.70" stroke="#000" stroke-width="2.0"/>
<line x1="296.55" y1="796.44" x2="305.15" y2="796.44" stroke="#000" stroke-width="2.0"/>
<line x1="296.55" y1="874.70" x2="305.15" y2="874.70" stroke="#000" stroke-width="2.0"/>
<line x1="339.34" y1="735.24" x2="339.34" y2="816.59" stroke="#000" stroke-width="2.0"/>
<line x1="335.04" y1="735.24" x2="343.64" y2="735.24" stroke="#000" stroke-width="2.0"/>
<line x1="335.04" y1="816.59" x2="343.64" y2="816.59" stroke="#000" stroke-width="2.0"/>
<line x1="377.83" y1="736.98" x2="377.83" y2="814.46" stroke="#000" stroke-width="2.0"/>
<line x1="373.53" y1="736.98" x2="382.13" y2="736.98" stroke="#000" stroke-width="2.0"/>
<line x1="373.53" y1="814.46" x2="382.13" y2="814.46" stroke="#000" stroke-width="2.0"/>
<line x1="416.32" y1="759.25" x2="416.32" y2="780.95" stroke="#000" stroke-width="2.0"/>
<line x1="412.02" y1="759.25" x2="420.62" y2="759.25" stroke="#000" stroke-width="2.0"/>
<line x1="412.02" y1="780.95" x2="420.62" y2="780.95" stroke="#000" stroke-width="2.0"/>
<line x1="454.81" y1="725.94" x2="454.81" y2="804.19" stroke="#000" stroke-width="2.0"/>
<line x1="450.51" y1="725.94" x2="459.11" y2="725.94" stroke="#000" stroke-width="2.0"/>
<line x1="450.51" y1="804.19" x2="459.11" y2="804.19" stroke="#000" stroke-width="2.0"/>
<line x1="493.30" y1="710.25" x2="493.30" y2="799.35" stroke="#000" stroke-width="2.0"/>
<line x1="489.00" y1="710.25" x2="497.60" y2="710.25" stroke="#000" stroke-width="2.0"/>
<line x1="489.00" y1="799.35" x2="497.60" y2="799.35" stroke="#000" stroke-width="2.0"/>
<line x1="531.79" y1="654.46" x2="531.79" y2="725.36" stroke="#000" stroke-width="2.0"/>
<line x1="527.49" y1="654.46" x2="536.09" y2="654.46" stroke="#000" stroke-width="2.0"/>
<line x1="527.49" y1="725.36" x2="536.09" y2="725.36" stroke="#000" stroke-width="2.0"/>
<line x1="570.28" y1="646.71" x2="570.28" y2="689.33" stroke="#000" stroke-width="2.0"/>
<line x1="565.98" y1="646.71" x2="574.58" y2="646.71" stroke="#000" stroke-width="2.0"/>
<line x1="565.98" y1="689.33" x2="574.58" y2="689.33" stroke="#000" stroke-width="2.0"/>
<line x1="608.77" y1="604.68" x2="608.77" y2="646.52" stroke="#000" stroke-width="2.0"/>
<line x1="604.47" y1="604.68" x2="613.07" y2="604.68" stroke="#000" stroke-width="2.0"/>
<line x1="604.47" y1="646.52" x2="613.07" y2="646.52" stroke="#000" stroke-width="2.0"/>
<line x1="647.26" y1="575.24" x2="647.26" y2="621.73" stroke="#000" stroke-width="2.0"/>
<line x1="642.96" y1="575.24" x2="651.56" y2="575.24" stroke="#000" stroke-width="2.0"/>
<line x1="642.96" y1="621.73" x2="651.56" y2="621.73" stroke="#000" stroke-width="2.0"/>
<path d="M108.40 905.69 L146.89 904.99 L185.38 889.50 L223.87 878.19 L262.36 856.88 L300.85 835.57 L339.34 775.91 L377.83 775.72 L416.32 770.10 L454.81 765.07 L493.30 754.80 L531.79 689.91 L570.28 668.02 L608.77 625.60 L647.26 598.48" fill="none" stroke="#000" stroke-width="2.2" stroke-linejoin="round"/>
<path d="M108.40 896.60L117.40 910.80L99.40 910.80Z" fill="#b8b8b8" stroke="#000" stroke-width="1.9" stroke-linejoin="miter" stroke-miterlimit="10"/>
<path d="M146.89 895.91L155.89 910.11L137.89 910.11Z" fill="#b8b8b8" stroke="#000" stroke-width="1.9" stroke-linejoin="miter" stroke-miterlimit="10"/>
<path d="M185.38 880.41L194.38 894.61L176.38 894.61Z" fill="#b8b8b8" stroke="#000" stroke-width="1.9" stroke-linejoin="miter" stroke-miterlimit="10"/>
<path d="M223.87 869.10L232.87 883.30L214.87 883.30Z" fill="#b8b8b8" stroke="#000" stroke-width="1.9" stroke-linejoin="miter" stroke-miterlimit="10"/>
<path d="M262.36 847.79L271.36 861.99L253.36 861.99Z" fill="#b8b8b8" stroke="#000" stroke-width="1.9" stroke-linejoin="miter" stroke-miterlimit="10"/>
<path d="M300.85 826.48L309.85 840.68L291.85 840.68Z" fill="#b8b8b8" stroke="#000" stroke-width="1.9" stroke-linejoin="miter" stroke-miterlimit="10"/>
<path d="M339.34 766.82L348.34 781.02L330.34 781.02Z" fill="#b8b8b8" stroke="#000" stroke-width="1.9" stroke-linejoin="miter" stroke-miterlimit="10"/>
<path d="M377.83 766.63L386.83 780.83L368.83 780.83Z" fill="#b8b8b8" stroke="#000" stroke-width="1.9" stroke-linejoin="miter" stroke-miterlimit="10"/>
<path d="M416.32 761.01L425.32 775.21L407.32 775.21Z" fill="#b8b8b8" stroke="#000" stroke-width="1.9" stroke-linejoin="miter" stroke-miterlimit="10"/>
<path d="M454.81 755.98L463.81 770.18L445.81 770.18Z" fill="#b8b8b8" stroke="#000" stroke-width="1.9" stroke-linejoin="miter" stroke-miterlimit="10"/>
<path d="M493.30 745.71L502.30 759.91L484.30 759.91Z" fill="#b8b8b8" stroke="#000" stroke-width="1.9" stroke-linejoin="miter" stroke-miterlimit="10"/>
<path d="M531.79 680.82L540.79 695.02L522.79 695.02Z" fill="#b8b8b8" stroke="#000" stroke-width="1.9" stroke-linejoin="miter" stroke-miterlimit="10"/>
<path d="M570.28 658.93L579.28 673.13L561.28 673.13Z" fill="#b8b8b8" stroke="#000" stroke-width="1.9" stroke-linejoin="miter" stroke-miterlimit="10"/>
<path d="M608.77 616.51L617.77 630.71L599.77 630.71Z" fill="#b8b8b8" stroke="#000" stroke-width="1.9" stroke-linejoin="miter" stroke-miterlimit="10"/>
<path d="M647.26 589.40L656.26 603.60L638.26 603.60Z" fill="#b8b8b8" stroke="#000" stroke-width="1.9" stroke-linejoin="miter" stroke-miterlimit="10"/>
<text x="392.6" y="818.9" text-anchor="middle" font-weight="bold" font-size="34">*</text>
<text x="475.4" y="802.4" text-anchor="middle" font-weight="bold" font-size="34">*</text>
<text x="517.6" y="771.8" text-anchor="middle" font-weight="bold" font-size="34">*</text>
<ellipse cx="115.80" cy="553.80" rx="11" ry="11.7" fill="#000"/>
<path d="M115.80 571.68L128.40 593.88L103.20 593.88Z" fill="#a8a8a8" stroke="#000" stroke-width="1.9" stroke-linejoin="miter" stroke-miterlimit="10"/>
<text x="136.0" y="566" font-size="22.4">PTX + vehicle 2</text>
<text x="136.0" y="593.2" font-size="22.4">PTX + geniposidic acid (<tspan font-weight="bold">2</tspan>, 75 mg/kg)</text>
</svg>
</body></html>
